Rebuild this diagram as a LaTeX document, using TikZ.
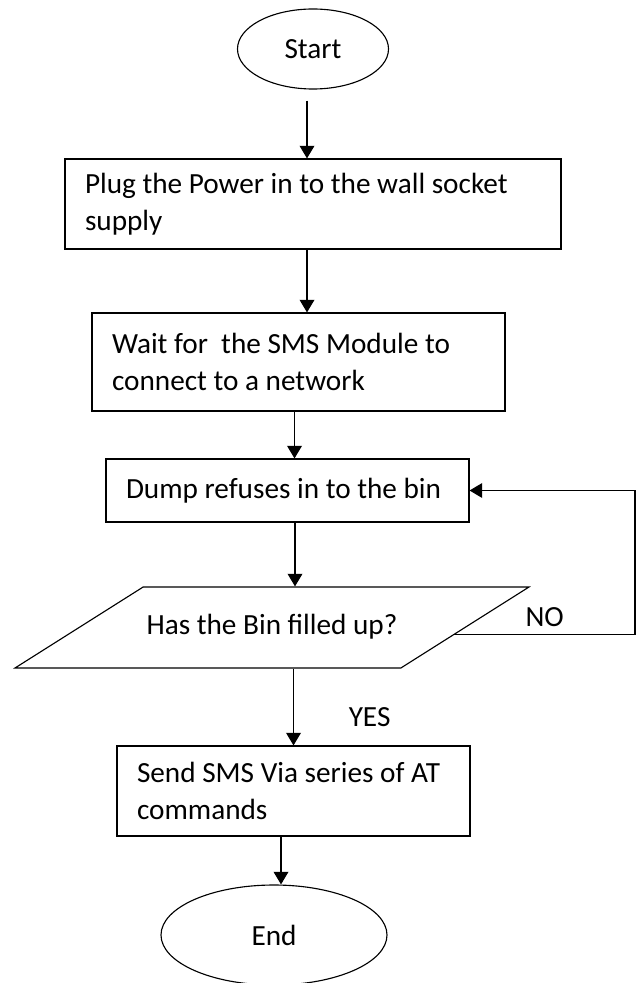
\documentclass[tikz,border=0pt]{standalone}
\usepackage{fontspec}
\setmainfont{Carlito}
\usepackage{tikz}
\usetikzlibrary{arrows.meta,shapes.geometric,calc}
\tikzstyle{block} = [rectangle, draw, thick, align=flush left, inner xsep=0.5cm, inner ysep=0pt]
\tikzstyle{terminal} = [ellipse, draw, thick, inner sep=0pt]
\tikzstyle{decision} = [trapezium, draw, thick, trapezium left angle=32.3, trapezium right angle=147.7, trapezium stretches body=true, inner xsep=0pt, inner ysep=0.6375cm, text height=0.55cm, text depth=0.2cm]
\tikzstyle{line} = [thick, -{Triangle[width=10.5pt,length=9pt]}]

\begin{document}
\begin{tikzpicture}[font=\fontsize{20.8}{26.3}\selectfont]
        \useasboundingbox (0,0) rectangle (15.925,-24.575);
        \node (start) [terminal, minimum width=3.775cm, minimum height=2cm] at (7.825,-1.225) {Start};
        \node (plug) [block, text width=11.4cm, minimum height=2.25cm, below of = start, node distance = 3.875cm] {Plug the Power in to the wall socket\\supply};
        \node (wait) [block, text width=9.325cm, minimum height=2.45cm, below of = plug, node distance = 3.95cm, xshift=-0.3625cm] {Wait for\ \ the SMS Module to\\connect to a network};
        \node (dump) [block, text width=8.075cm, minimum height=1.575cm, below of = wait, node distance = 3.2125cm, xshift=-0.275cm] {Dump refuses in to the bin};
        \node (full) [decision, minimum width=12.85cm, below of = dump, node distance = 3.425cm, xshift=-0.3875cm] {Has the Bin filled up?};
        \node (sms) [block, text width=7.825cm, minimum height=2.25cm, below of = full, node distance = 4.0875cm, xshift=0.5375cm] {Send SMS Via series of AT\\commands};
        \node (end) [terminal, minimum width=5.65cm, minimum height=2.5cm, below of = sms, node distance = 3.6cm, xshift=-0.4875cm] {End};
        \coordinate (edge) at (15.875,-15);
        \coordinate (noout) at ($(full.bottom right corner)!0.41!(full.top right corner)$);
        \draw[line, shorten <=0.275cm] ([xshift=-0.15cm]start.south) -- ([xshift=-0.15cm]start.south |- plug.north);
        \draw[line] ([xshift=-0.15cm]plug.south) -- ([xshift=-0.15cm]plug.south |- wait.north);
        \draw[line] ([xshift=-0.1cm]wait.south) -- ([xshift=-0.1cm]wait.south |- dump.north);
        \draw[line] ([xshift=0.1875cm]dump.south) -- ([xshift=0.1875cm]dump.south |- full.north);
        \draw[line] (sms.north |- full.south) --node[right=1.25cm, pos=0.63]{YES} (sms.north);
        \draw[line] ([xshift=0.175cm]end.north |- sms.south) -- ([xshift=0.175cm]end.north);
        \draw[line] (noout) --node[above=2pt]{NO} (noout -| edge) |- (dump.east);
    \end{tikzpicture}
\end{document}
